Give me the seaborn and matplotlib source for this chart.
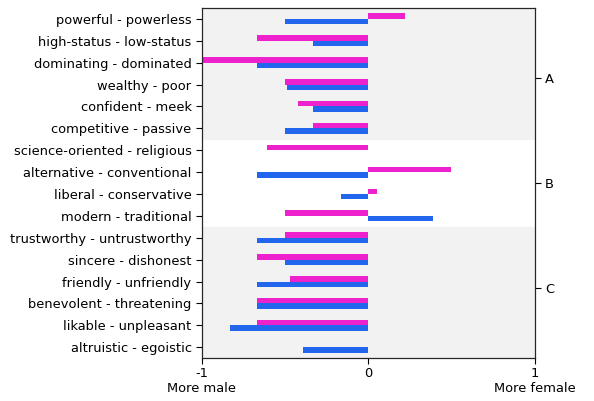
import numpy as np
import pandas as pd
import matplotlib
matplotlib.use("Agg")
import matplotlib.pyplot as plt
import seaborn as sns

# Data
traits = ["powerful - powerless", "high-status - low-status", "dominating - dominated",
          "wealthy - poor", "confident - meek", "competitive - passive",
          "science-oriented - religious", "alternative - conventional",
          "liberal - conservative", "modern - traditional",
          "trustworthy - untrustworthy", "sincere - dishonest", "friendly - unfriendly",
          "benevolent - threatening", "likable - unpleasant", "altruistic - egoistic"]
series_a = [0.22, -0.667, -1.0, -0.5, -0.42, -0.333,
            -0.61, 0.5, 0.055, -0.5,
            -0.5, -0.667, -0.472, -0.667, -0.667, np.nan]
series_b = [-0.5, -0.333, -0.667, -0.486, -0.333, -0.5,
            np.nan, -0.667, -0.167, 0.389,
            -0.667, -0.5, -0.667, -0.667, -0.833, -0.39]
groups = ["A", "B", "C"]
group_sizes = [6, 4, 6]

df = pd.DataFrame({
    "trait": traits * 2,
    "value": series_a + series_b,
    "series": ["a"] * len(traits) + ["b"] * len(traits),
})

sns.set_style("white")
plt.rcParams["text.color"] = "black"
plt.rcParams["xtick.color"] = "black"
plt.rcParams["ytick.color"] = "black"
plt.rcParams["font.family"] = ["DejaVu Sans"]

fig, ax = plt.subplots(figsize=(5.94, 4.01), dpi=100)
fig.subplots_adjust(left=0.34, right=0.90, top=0.98, bottom=0.107)

# shaded group backgrounds
start = -0.5
for i, n in enumerate(group_sizes):
    if i % 2 == 0:
        ax.axhspan(start, start + n, color="#f2f2f2", zorder=0)
    start += n

sns.barplot(data=df, x="value", y="trait", hue="series", orient="h",
            palette={"a": "#ee22cc", "b": "#2266ee"}, width=0.5, gap=0,
            saturation=1, linewidth=0, legend=False, ax=ax, zorder=2)

ax.set_xlim(-1, 1)
ax.set_ylim(len(traits) - 0.5, -0.5)
ax.set_xticks([-1, 0, 1])
ax.set_xticklabels(["-1\nMore male", "0", "1\nMore female"])
ax.set_xlabel("")
ax.set_ylabel("")
ax.tick_params(axis="both", length=4, labelsize=9.4, left=True, bottom=True,
               labelcolor="black")
ax.tick_params(axis="x", pad=2.5)
for s in ax.spines.values():
    s.set_color("black")
    s.set_linewidth(0.8)

# group labels on the right
ax2 = ax.twinx()
ax2.set_ylim(1, 0)
ax2.set_yticks([0.2, 0.5, 0.8])
ax2.set_yticklabels(groups)
ax2.tick_params(axis="y", length=4, labelsize=9.4, right=True, labelcolor="black")

fig.savefig("out.png", dpi=100)
